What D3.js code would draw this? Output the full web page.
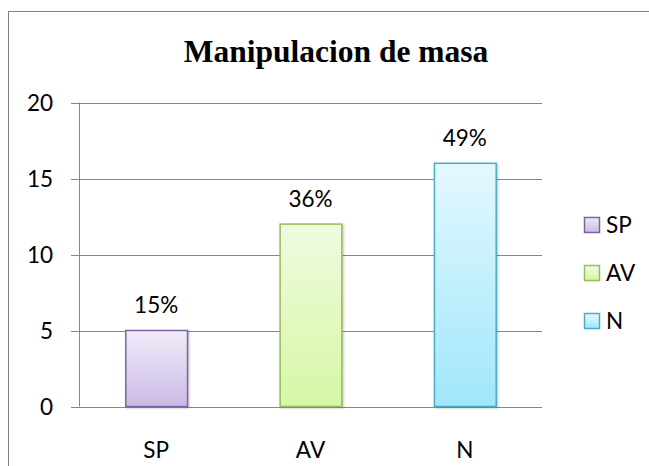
<!DOCTYPE html>
<html>
<head>
<meta charset="utf-8">
<script src="https://cdn.jsdelivr.net/npm/d3@7"></script>
<style>
  body { margin: 0; background: #fff; }
  svg { display: block; }
</style>
</head>
<body>
<script>
// data
const categories = ['SP', 'AV', 'N'];
const values = [5, 12, 16];
const labels = ['15%', '36%', '49%'];
const yTicks = [0, 5, 10, 15, 20];

const colors = {
  SP: { top: '#f0ebf8', bottom: '#cbb9e6', stroke: '#8064a2' },
  AV: { top: '#effbe0', bottom: '#d6f7a4', stroke: '#9bbb59' },
  N: { top: '#e4f8fe', bottom: '#a0e7fb', stroke: '#4bacc6' },
};

const width = 649, height = 466;
const margin = { left: 79, right: 108, top: 102.5, bottom: 59.5 };
const font = 'Lato, sans-serif';
const fontSize = 22.5;

const svg = d3.select('body').append('svg')
  .attr('width', width).attr('height', height);

// gradients for bars
const defs = svg.append('defs');
categories.forEach((c) => {
  const g = defs.append('linearGradient').attr('id', `grad-${c}`)
    .attr('x1', 0).attr('y1', 0).attr('x2', 0).attr('y2', 1);
  g.append('stop').attr('offset', '0%').attr('stop-color', colors[c].top);
  g.append('stop').attr('offset', '100%').attr('stop-color', colors[c].bottom);
});
const shadow = defs.append('filter').attr('id', 'shadow')
  .attr('x', '-20%').attr('y', '-20%').attr('width', '140%').attr('height', '140%');
shadow.append('feDropShadow').attr('dx', 1).attr('dy', 1).attr('stdDeviation', 1.2)
  .attr('flood-color', '#000').attr('flood-opacity', 0.25);

// outer frame
svg.append('rect')
  .attr('x', 8.5).attr('y', 11.5)
  .attr('width', width).attr('height', height)
  .attr('fill', 'none').attr('stroke', '#7f7f7f').attr('stroke-width', 1);

const x = d3.scaleBand()
  .domain(categories)
  .range([margin.left, width - margin.right + 1])
  .paddingInner(0.6).paddingOuter(0.3);

const y = d3.scaleLinear()
  .domain([0, 20])
  .range([height - margin.bottom, margin.top]);

// gridlines
svg.append('g')
  .selectAll('line')
  .data(yTicks)
  .join('line')
  .attr('x1', margin.left - 8)
  .attr('x2', width - margin.right + 1)
  .attr('y1', (d) => Math.round(y(d)) + 0.5)
  .attr('y2', (d) => Math.round(y(d)) + 0.5)
  .attr('stroke', '#868686');

// y axis line
svg.append('line')
  .attr('x1', margin.left + 0.5).attr('x2', margin.left + 0.5)
  .attr('y1', y(20)).attr('y2', y(0))
  .attr('stroke', '#868686');

// y tick labels
svg.append('g')
  .selectAll('text')
  .data(yTicks)
  .join('text')
  .attr('x', 53)
  .attr('y', (d) => y(d))
  .attr('dy', '0.36em')
  .attr('text-anchor', 'end')
  .attr('font-family', font)
  .attr('font-size', fontSize)
  .text((d) => d);

// bars
svg.append('g')
  .selectAll('rect')
  .data(categories)
  .join('rect')
  .attr('x', (d) => x(d) + 0.5)
  .attr('y', (d, i) => y(values[i]))
  .attr('width', x.bandwidth())
  .attr('height', (d, i) => y(0) - y(values[i]))
  .attr('fill', (d) => `url(#grad-${d})`)
  .attr('stroke', (d) => colors[d].stroke)
  .attr('stroke-width', 1.5)
  .attr('filter', 'url(#shadow)');

// value labels
svg.append('g')
  .selectAll('text')
  .data(categories)
  .join('text')
  .attr('x', (d) => x(d) + x.bandwidth() / 2)
  .attr('y', (d, i) => y(values[i]) - 17.5)
  .attr('text-anchor', 'middle')
  .attr('font-family', font)
  .attr('font-size', fontSize)
  .text((d, i) => labels[i]);

// category labels
svg.append('g')
  .selectAll('text')
  .data(categories)
  .join('text')
  .attr('x', (d) => x(d) + x.bandwidth() / 2)
  .attr('y', y(0) + 51)
  .attr('text-anchor', 'middle')
  .attr('font-family', font)
  .attr('font-size', fontSize)
  .text((d) => d);

// title
svg.append('text')
  .attr('x', 336)
  .attr('y', 62)
  .attr('text-anchor', 'middle')
  .attr('font-family', '"Liberation Serif", serif')
  .attr('font-weight', 'bold')
  .attr('font-size', 31.5)
  .text('Manipulacion de masa');

// legend
const legend = svg.append('g').attr('transform', 'translate(584, 225)')
  .selectAll('g')
  .data(categories)
  .join('g')
  .attr('transform', (d, i) => `translate(0, ${i * 48})`);

legend.append('rect')
  .attr('x', 0.5).attr('y', -7.5)
  .attr('width', 15).attr('height', 15)
  .attr('fill', (d) => `url(#grad-${d})`)
  .attr('stroke', (d) => colors[d].stroke)
  .attr('stroke-width', 1.5);

legend.append('text')
  .attr('x', 22)
  .attr('y', 0)
  .attr('dy', '0.36em')
  .attr('font-family', font)
  .attr('font-size', fontSize)
  .text((d) => d);
</script>
</body>
</html>
